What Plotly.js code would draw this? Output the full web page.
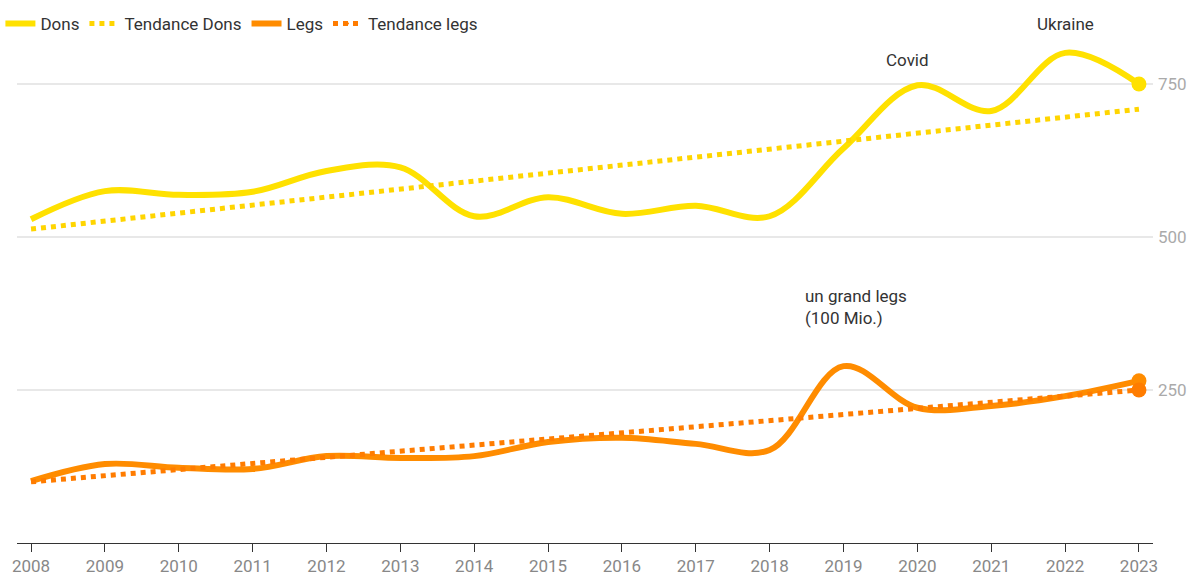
<!DOCTYPE html>
<html>
<head>
<meta charset="utf-8">
<script src="https://cdn.plot.ly/plotly-3.0.1.min.js"></script>
<style>html,body{margin:0;padding:0;background:#fff;}#chart{width:1190px;height:578px;}</style>
</head>
<body>
<div id="chart"></div>
<script>
const years = [2008,2009,2010,2011,2012,2013,2014,2015,2016,2017,2018,2019,2020,2021,2022,2023];
const dons = [529,575,569,574,608,614,534,565,538,551,534,645,748,706,801,750];
const tendanceDons = [513,526,539,552,565,578,591,604,618,631,644,657,670,683,696,709];
const legs = [101,129,123,121,142,139,142,165,172,162,152,289,221,224,240,265];
const tendanceLegs = [100,110,120,130,140,150,160,170,180,190,200,210,220,230,240,250];
const yTicks = [250,500,750];

const cDons = '#ffe100', cTD = '#ffd500', cLegs = '#ff8c00', cTL = '#ff7c00';
function lastOnly(arr, size){ return arr.map((v,i)=> i===arr.length-1 ? size : 0); }

const traces = [
  {x: years, y: dons, name: 'Dons', mode: 'lines+markers', line: {color: cDons, width: 6, shape: 'spline', smoothing: 1}, marker: {color: cDons, opacity: 1, size: lastOnly(dons, 15), line: {width: 0}}},
  {x: years, y: tendanceDons, name: 'Tendance Dons', mode: 'lines', line: {color: cTD, width: 5, dash: '5px,5px'}},
  {x: years, y: legs, name: 'Legs', mode: 'lines+markers', line: {color: cLegs, width: 6, shape: 'spline', smoothing: 1}, marker: {color: cLegs, opacity: 1, size: lastOnly(legs, 15), line: {width: 0}}},
  {x: years, y: tendanceLegs, name: 'Tendance legs', mode: 'lines+markers', line: {color: cTL, width: 5, dash: '5px,5px'}, marker: {color: cTL, opacity: 1, size: lastOnly(tendanceLegs, 15), line: {width: 0}}}
];

const layout = {
  width: 1190, height: 578,
  margin: {l: 17, r: 37, t: 29, b: 35, autoexpand: false},
  paper_bgcolor: '#fff', plot_bgcolor: '#fff',
  font: {family: 'Roboto, sans-serif', size: 18, color: '#333'},
  showlegend: true,
  legend: {orientation: 'h', x: -0.0146, xanchor: 'left', y: 1.01, yanchor: 'middle', font: {size: 17, color: '#333'}, itemwidth: 30, traceorder: 'normal'},
  xaxis: {range: [2007.81, 2023.19], automargin: false, tickvals: years, ticktext: years.map(String), showgrid: false, zeroline: false,
          showline: true, linecolor: '#333', linewidth: 1, ticks: 'outside', ticklen: 8, tickcolor: '#333',
          tickfont: {size: 17, color: '#888'}},
  yaxis: {range: [0, 840], automargin: false, side: 'right', tickvals: yTicks, ticktext: yTicks.map(String), showgrid: true, gridcolor: '#e8e8e8', gridwidth: 1.5,
          zeroline: false, showline: false, ticks: '', ticklabelstandoff: 4, tickfont: {size: 17, color: '#aaa'}},
  annotations: [
    {xref: 'x', yref: 'paper', x: 2022, y: 1.01, yanchor: 'middle', text: 'Ukraine', showarrow: false, font: {size: 17, color: '#333'}},
    {x: 2019.87, y: 789, text: 'Covid', showarrow: false, font: {size: 17, color: '#333'}},
    {x: 2018.45, y: 386, text: 'un grand legs<br>(100 Mio.)', showarrow: false, xanchor: 'left', align: 'left', font: {size: 17, color: '#333'}}
  ]
};
Plotly.newPlot('chart', traces, layout, {displayModeBar: false, staticPlot: true});
</script>
</body>
</html>
